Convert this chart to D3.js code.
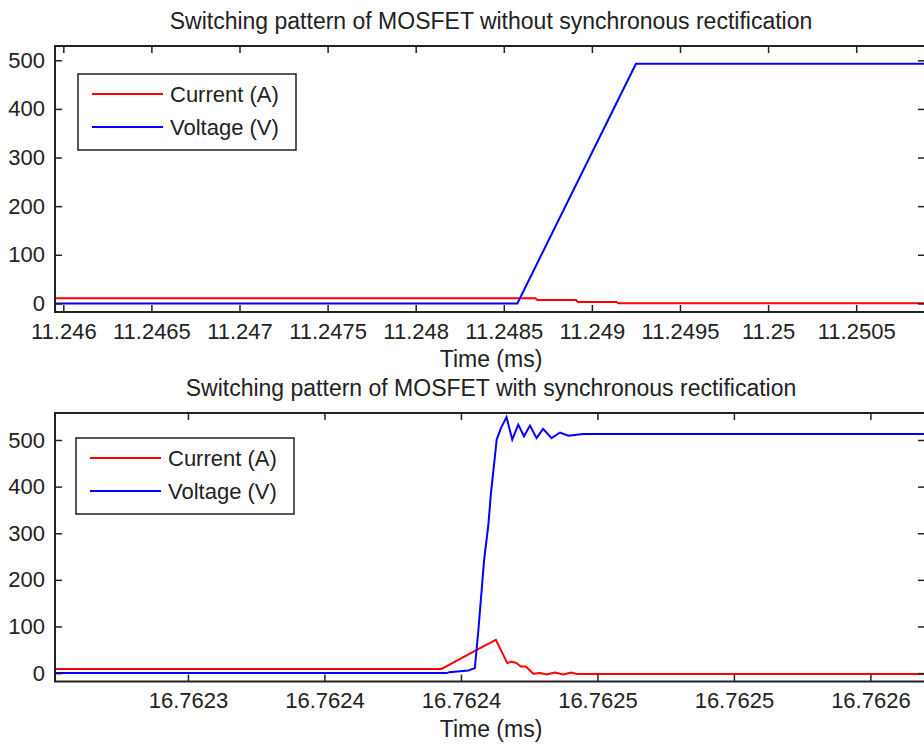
<!DOCTYPE html>
<html>
<head>
<meta charset="utf-8">
<script src="https://cdn.jsdelivr.net/npm/d3@7"></script>
<style>
  body { margin: 0; background: #fff; }
  text { font-family: "Liberation Sans", Arial, sans-serif; fill: #222; }
</style>
</head>
<body>
<script>
// values, [time (ms), value]
const currentNoSR = [
  [11.24595, 10.5], [11.24868, 10.5], [11.24869, 7], [11.24891, 7],
  [11.24892, 3], [11.24914, 3], [11.24915, 0.3], [11.2510, 0.3]
];
const voltageNoSR = [
  [11.24595, 0], [11.248577, 0], [11.24925, 493], [11.2510, 493]
];

const currentSR = [
  [16.76225, 9], [16.7623929, 9], [16.7624058, 50], [16.7624128, 71.5],
  [16.7624170, 21.5], [16.7624186, 25], [16.7624204, 21.5], [16.7624219, 14],
  [16.7624238, 14], [16.7624265, -1.5], [16.7624289, 0], [16.7624314, -3],
  [16.7624344, 1.3], [16.7624375, -3], [16.7624405, 1], [16.7624424, -2],
  [16.76258, -2]
];
const voltageSR = [
  [16.76225, 0], [16.7623948, 0], [16.7623957, 2], [16.7624027, 5.6],
  [16.7624051, 10.7], [16.7624063, 86], [16.7624073, 157], [16.7624085, 243],
  [16.7624100, 315], [16.7624110, 386], [16.7624122, 451], [16.7624131, 501],
  [16.7624147, 526], [16.7624167, 549], [16.7624188, 501], [16.7624210, 533],
  [16.7624231, 508], [16.7624253, 531], [16.7624277, 504], [16.7624301, 524],
  [16.7624332, 504], [16.7624363, 516], [16.7624393, 509], [16.7624448, 513],
  [16.76258, 513]
];

const xTicksNoSR = [11.246, 11.2465, 11.247, 11.2475, 11.248, 11.2485, 11.249, 11.2495, 11.25, 11.2505];
const xLabelsNoSR = ["11.246", "11.2465", "11.247", "11.2475", "11.248", "11.2485", "11.249", "11.2495", "11.25", "11.2505"];
const xTicksSR = [16.7623, 16.76235, 16.7624, 16.76245, 16.7625, 16.76255];
const xLabelsSR = ["16.7623", "16.7624", "16.7624", "16.7625", "16.7625", "16.7626"];
const yTicks = [0, 100, 200, 300, 400, 500];
const seriesNames = ["Current (A)", "Voltage (V)"];
const seriesColors = ["#ff0000", "#0000ff"];

const W = 924, H = 747;
const svg = d3.select("body").append("svg")
  .attr("width", W)
  .attr("height", H);

function drawPanel(p) {
  const g = svg.append("g").attr("transform", `translate(${p.left},${p.top})`);
  const w = p.width, h = p.height;

  const x = d3.scaleLinear().domain(p.xDomain).range([0, w]);
  const y = d3.scaleLinear().domain(p.yDomain).range([h, 0]);

  g.append("rect").attr("width", w).attr("height", h).attr("fill", "#fff");

  const clipId = "clip" + p.id;
  g.append("clipPath").attr("id", clipId)
    .append("rect").attr("width", w).attr("height", h);

  const line = d3.line().x(d => x(d[0])).y(d => y(d[1]));

  p.series.forEach((s, i) => {
    g.append("path")
      .datum(s)
      .attr("clip-path", `url(#${clipId})`)
      .attr("fill", "none")
      .attr("stroke", seriesColors[i])
      .attr("stroke-width", 2)
      .attr("d", line);
  });

  // axes, ticks pointing inward like matlab
  const tk = 7;
  const fmt = d => p.xLabels[p.xTicks.indexOf(d)];
  const xb = g.append("g").attr("transform", `translate(0,${h})`)
    .call(d3.axisBottom(x).tickValues(p.xTicks).tickFormat(fmt).tickSize(-tk).tickPadding(11));
  const xt = g.append("g")
    .call(d3.axisTop(x).tickValues(p.xTicks).tickFormat("").tickSize(-tk));
  const yl = g.append("g")
    .call(d3.axisLeft(y).tickValues(yTicks).tickSize(-tk).tickPadding(10));
  const yr = g.append("g").attr("transform", `translate(${w},0)`)
    .call(d3.axisRight(y).tickValues(yTicks).tickFormat("").tickSize(-tk));

  [xb, xt, yl, yr].forEach(a => {
    a.select(".domain").remove();
    a.selectAll("line").attr("stroke", "#222").attr("stroke-width", 1.5);
    a.selectAll("text").attr("font-size", 22).attr("fill", "#222")
      .style("font-family", '"Liberation Sans", Arial, sans-serif');
  });

  g.append("rect").attr("width", w).attr("height", h)
    .attr("fill", "none").attr("stroke", "#222").attr("stroke-width", 2);

  g.append("text")
    .attr("x", p.titleX - p.left).attr("y", -17)
    .attr("text-anchor", "middle").attr("font-size", 23)
    .text(p.title);

  g.append("text")
    .attr("x", p.titleX - p.left).attr("y", h + 55)
    .attr("text-anchor", "middle").attr("font-size", 23)
    .text("Time (ms)");

  // legend
  const lg = g.append("g").attr("transform", `translate(${p.legend[0]},${p.legend[1]})`);
  lg.append("rect").attr("width", 218).attr("height", 76)
    .attr("fill", "#fff").attr("stroke", "#222").attr("stroke-width", 1.5);
  seriesNames.forEach((n, i) => {
    const yy = 20 + i * 33;
    lg.append("line").attr("x1", 14).attr("x2", 85).attr("y1", yy).attr("y2", yy)
      .attr("stroke", seriesColors[i]).attr("stroke-width", 2);
    lg.append("text").attr("x", 92).attr("y", yy + 8).attr("font-size", 22).text(n);
  });
}

drawPanel({
  id: 1, left: 55, top: 46, width: 870, height: 266,
  xDomain: [11.2459529, 11.2508905], yDomain: [-17.7, 529.4],
  xTicks: xTicksNoSR, xLabels: xLabelsNoSR,
  series: [currentNoSR, voltageNoSR],
  title: "Switching pattern of MOSFET without synchronous rectification",
  titleX: 491, legend: [23, 28]
});

drawPanel({
  id: 2, left: 55, top: 413, width: 870, height: 268.5,
  xDomain: [16.7622513, 16.76257], yDomain: [-18, 557.9],
  xTicks: xTicksSR, xLabels: xLabelsSR,
  series: [currentSR, voltageSR],
  title: "Switching pattern of MOSFET with synchronous rectification",
  titleX: 491, legend: [21, 25]
});
</script>
</body>
</html>
